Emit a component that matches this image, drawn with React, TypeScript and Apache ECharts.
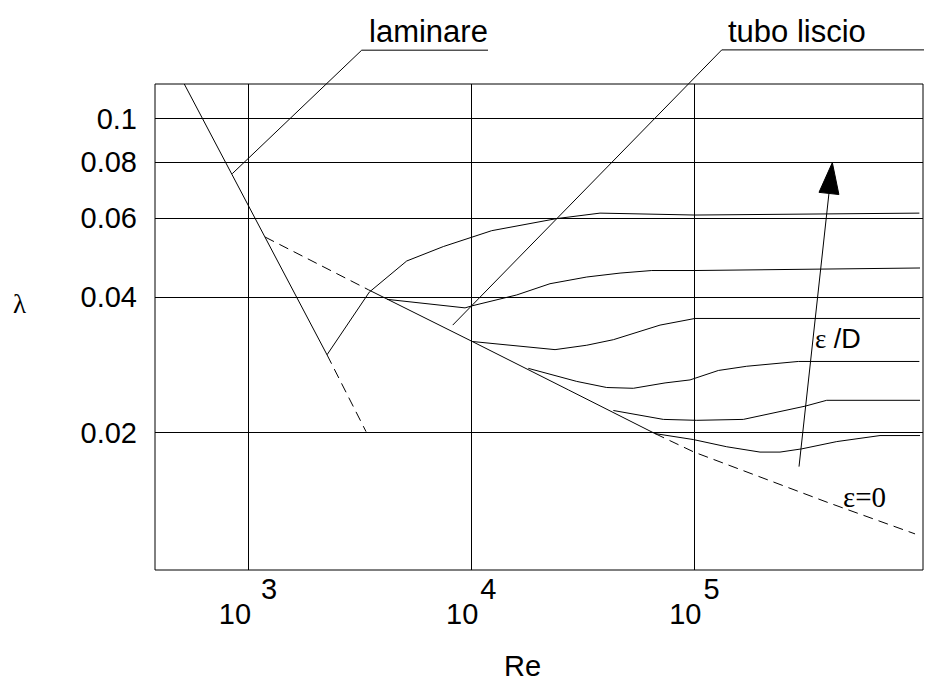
import React, { useEffect, useRef } from 'react';
import * as echarts from 'echarts';

const SANS = '"Liberation Sans", Arial, Helvetica, sans-serif';
const SERIF = '"Liberation Serif", "Times New Roman", serif';

// Axis extents: Reynolds number (log) and friction factor λ (log)
const reRange = [383, 1057000];
const lambdaRange = [0.00989, 0.1194];

// Tick values and labels
const xTicks = [1000, 10000, 100000];
const xTickExponents = ['3', '4', '5'];
const yTicks = [0.1, 0.08, 0.06, 0.04, 0.02];
const yTickLabels = ['0.1', '0.08', '0.06', '0.04', '0.02'];

// Laminar regime (λ = 64/Re)
const laminarSolid = [[518, 0.1194], [2259, 0.0298]];
const laminarDashed = [[2259, 0.0298], [3379, 0.0201]];

// Smooth pipe (ε = 0)
const smoothDashedLow = [[1192, 0.0545], [3459, 0.0416]];
const smoothSolid = [[3459, 0.0416], [10110, 0.0319], [27230, 0.0249], [66600, 0.0199]];
const smoothDashedHigh = [[66600, 0.0199], [99600, 0.0181], [392600, 0.014], [973600, 0.0119]];

// Rough pipe curves, ε/D decreasing from rough1 to rough6
const rough1 = [[2259, 0.0298], [3496, 0.0411], [5140, 0.0482], [7500, 0.0519], [12350, 0.0563], [24150, 0.0599], [37760, 0.0616], [100600, 0.061], [1018000, 0.0616]];
const rough2 = [[4195, 0.0396], [9380, 0.0379], [10080, 0.0383], [15990, 0.0405], [22540, 0.0429], [32930, 0.0444], [46420, 0.0453], [64380, 0.0459], [100600, 0.0459], [1025000, 0.0465]];
const rough3 = [[10110, 0.0319], [23740, 0.0306], [32930, 0.0313], [43330, 0.0322], [70130, 0.0347], [100600, 0.0359], [1025000, 0.0359]];
const rough4 = [[18020, 0.0278], [29700, 0.026], [40460, 0.0252], [53250, 0.0251], [73850, 0.0258], [95570, 0.0262], [128000, 0.0275], [171500, 0.0281], [292100, 0.0288], [1018000, 0.0288]];
const rough5 = [[43330, 0.0224], [72560, 0.0214], [102400, 0.0213], [165600, 0.0214], [312900, 0.0229], [391400, 0.0236], [1025000, 0.0236]];
const rough6 = [[66600, 0.0199], [98880, 0.0193], [139500, 0.0186], [196700, 0.0181], [241800, 0.0181], [302500, 0.0184], [434200, 0.0191], [678300, 0.0197], [1025000, 0.0197]];

// Leader lines for the annotations
const laminarLeader = [[850, 0.0754], [3231, 0.142], [11890, 0.142]];
const smoothLeader = [[8263, 0.0347], [132550, 0.1422], [1368000, 0.1422]];

// Arrow "ε/D increasing": [Re start, λ start, Re tip, λ tip]
const roughnessArrow = [[294200, 0.0168, 414800, 0.0798]];

const lineSeries = (data: number[][], dashed = false, clip = true) => ({
  type: 'line',
  data,
  symbol: 'none',
  showSymbol: false,
  clip,
  silent: true,
  z: 3,
  lineStyle: { color: '#000', width: 1, type: dashed ? [10, 6] : 'solid' },
});

export default function App() {
  const ref = useRef<HTMLDivElement>(null);

  useEffect(() => {
    if (!ref.current) return;
    const chart = echarts.init(ref.current, undefined, { renderer: 'svg' });

    const tickFont = { fontSize: 29, fontFamily: SANS, color: '#000' };

    const option: any = {
      animation: false,
      backgroundColor: '#fff',
      textStyle: { fontFamily: SANS },
      grid: {
        left: 155,
        top: 84,
        width: 768,
        height: 486,
        show: true,
        borderColor: '#000',
        borderWidth: 1,
        backgroundColor: 'transparent',
      },
      xAxis: {
        type: 'log',
        logBase: 10,
        min: reRange[0],
        max: reRange[1],
        axisLine: { show: false },
        axisTick: { show: false },
        splitLine: { show: false },
        axisLabel: {
          margin: 4,
          formatter: (v: number) => {
            const e = Math.log10(v);
            const r = Math.round(e);
            if (Math.abs(e - r) > 1e-6) return '';
            const i = xTicks.findIndex((t) => Math.abs(Math.log10(t) - r) < 1e-6);
            if (i < 0) return '';
            return `{b|10}{${i === 0 ? 's0' : 's'}|${xTickExponents[i]}}`;
          },
          rich: {
            b: { ...tickFont, verticalAlign: 'bottom' },
            s: { ...tickFont, verticalAlign: 'top', padding: [0, 0, 25, 2] },
            s0: { ...tickFont, verticalAlign: 'top', padding: [0, 0, 25, 10] },
          },
        },
      },
      yAxis: {
        type: 'log',
        logBase: 10,
        min: lambdaRange[0],
        max: lambdaRange[1],
        axisLine: { show: false },
        axisTick: { show: false },
        splitLine: { show: false },
        axisLabel: { show: false },
      },
      graphic: [
        {
          type: 'text',
          x: 369,
          y: 31.3,
          silent: true,
          style: { text: 'laminare', fontSize: 31, fontFamily: SANS, fill: '#000', align: 'left', verticalAlign: 'middle' },
        },
        {
          type: 'text',
          x: 728,
          y: 31.3,
          silent: true,
          style: { text: 'tubo liscio', fontSize: 31, fontFamily: SANS, fill: '#000', align: 'left', verticalAlign: 'middle' },
        },
        {
          type: 'text',
          x: 504,
          y: 665.5,
          silent: true,
          style: { text: 'Re', fontSize: 29, fontFamily: SANS, fill: '#000', align: 'left', verticalAlign: 'middle' },
        },
        {
          type: 'text',
          x: 13,
          y: 304,
          silent: true,
          style: { text: 'λ', fontSize: 27, fontFamily: SERIF, fill: '#000', align: 'left', verticalAlign: 'middle' },
        },
        {
          type: 'text',
          x: 815,
          y: 339,
          silent: true,
          style: {
            text: '{e|ε}{s| /D}',
            fill: '#000',
            align: 'left',
            verticalAlign: 'middle',
            rich: {
              e: { fontSize: 27, fontFamily: SERIF, fill: '#000' },
              s: { fontSize: 27, fontFamily: SANS, fill: '#000' },
            },
          },
        },
        {
          type: 'text',
          x: 843,
          y: 497,
          silent: true,
          style: { text: 'ε=0', fontSize: 29, fontFamily: SERIF, fill: '#000', align: 'left', verticalAlign: 'middle' },
        },
      ],
      series: [
        {
          type: 'line',
          data: [],
          silent: true,
          markLine: {
            silent: true,
            symbol: ['none', 'none'],
            animation: false,
            lineStyle: { color: '#000', width: 1, type: 'solid' },
            emphasis: { disabled: true },
            data: [
              ...yTicks.map((v, i) => ({
                yAxis: v,
                label: {
                  show: true,
                  position: 'start',
                  formatter: yTickLabels[i],
                  distance: 18,
                  padding: [6, 0, 0, 0],
                  ...tickFont,
                },
              })),
              ...xTicks.map((v) => ({ xAxis: v, label: { show: false } })),
            ],
          },
        },
        lineSeries(laminarSolid),
        lineSeries(laminarDashed, true),
        lineSeries(smoothDashedLow, true),
        lineSeries(smoothSolid),
        lineSeries(smoothDashedHigh, true),
        lineSeries(rough1),
        lineSeries(rough2),
        lineSeries(rough3),
        lineSeries(rough4),
        lineSeries(rough5),
        lineSeries(rough6),
        lineSeries(laminarLeader, false, false),
        lineSeries(smoothLeader, false, false),
        {
          type: 'custom',
          coordinateSystem: 'cartesian2d',
          data: roughnessArrow,
          encode: { x: [0, 2], y: [1, 3] },
          silent: true,
          clip: false,
          z: 4,
          renderItem: (_params: any, api: any) => {
            const a = api.coord([api.value(0), api.value(1)]);
            const b = api.coord([api.value(2), api.value(3)]);
            const dx = b[0] - a[0];
            const dy = b[1] - a[1];
            const len = Math.hypot(dx, dy) || 1;
            const ux = dx / len;
            const uy = dy / len;
            const headLen = 31;
            const headHalf = 10;
            const bx = b[0] - ux * headLen;
            const by = b[1] - uy * headLen;
            return {
              type: 'group',
              children: [
                {
                  type: 'line',
                  shape: { x1: a[0], y1: a[1], x2: bx, y2: by },
                  style: { stroke: '#000', lineWidth: 1, fill: null },
                },
                {
                  type: 'polygon',
                  shape: {
                    points: [
                      [b[0], b[1]],
                      [bx - uy * headHalf, by + ux * headHalf],
                      [bx + uy * headHalf, by - ux * headHalf],
                    ],
                  },
                  style: { fill: '#000', stroke: '#000', lineWidth: 1 },
                },
              ],
            };
          },
        },
      ],
    };

    chart.setOption(option);
    return () => chart.dispose();
  }, []);

  return (
    <div
      ref={ref}
      style={{ position: 'fixed', left: 0, top: 0, width: 948, height: 681, background: '#fff' }}
    />
  );
}
